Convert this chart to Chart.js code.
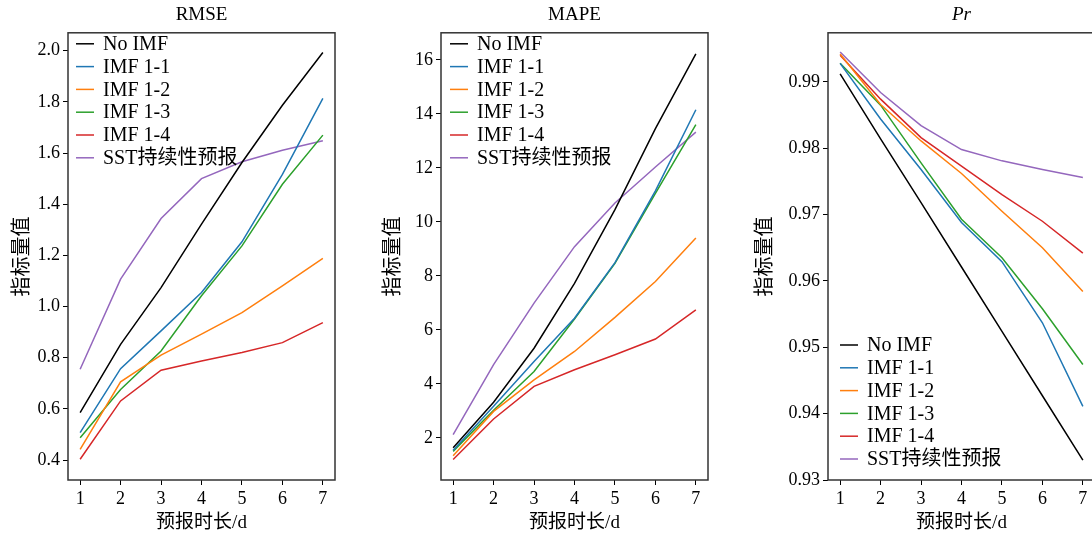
<!DOCTYPE html>
<html>
<head>
<meta charset="utf-8">
<script src="https://cdn.jsdelivr.net/npm/chart.js@4.4.0/dist/chart.umd.min.js"></script>
<style>
  html, body { margin: 0; padding: 0; background: #fff; overflow: hidden; width: 1092px; height: 536px; }
  canvas { position: absolute; top: 0; }
</style>
</head>
<body>
<canvas id="rmse" width="345" height="536" style="left:0px"></canvas>
<canvas id="mape" width="345" height="536" style="left:373px"></canvas>
<canvas id="pr" width="360" height="536" style="left:745px"></canvas>
<script>
const days = [1, 2, 3, 4, 5, 6, 7];
const seriesNames = ['No IMF', 'IMF 1-1', 'IMF 1-2', 'IMF 1-3', 'IMF 1-4', 'SST持续性预报'];
const lineColors = ['#000000', '#1f77b4', '#ff7f0e', '#2ca02c', '#d62728', '#9467bd'];

// RMSE
const rmseNoImf = [0.585, 0.852, 1.074, 1.322, 1.563, 1.787, 1.993];
const rmseImf11 = [0.507, 0.757, 0.905, 1.055, 1.253, 1.517, 1.814];
const rmseImf12 = [0.442, 0.706, 0.810, 0.892, 0.976, 1.081, 1.188];
const rmseImf13 = [0.487, 0.676, 0.826, 1.042, 1.237, 1.478, 1.670];
const rmseImf14 = [0.403, 0.631, 0.751, 0.787, 0.820, 0.859, 0.937];
const rmseSst   = [0.755, 1.107, 1.344, 1.500, 1.566, 1.611, 1.648];
const rmseTicks = [0.4, 0.6, 0.8, 1.0, 1.2, 1.4, 1.6, 1.8, 2.0];

// MAPE
const mapeNoImf = [1.63, 3.32, 5.32, 7.72, 10.45, 13.45, 16.22];
const mapeImf11 = [1.54, 3.17, 4.83, 6.43, 8.49, 11.15, 14.15];
const mapeImf12 = [1.34, 2.98, 4.15, 5.20, 6.46, 7.79, 9.40];
const mapeImf13 = [1.50, 3.02, 4.46, 6.40, 8.46, 11.05, 13.60];
const mapeImf14 = [1.20, 2.70, 3.91, 4.52, 5.08, 5.66, 6.74];
const mapeSst   = [2.12, 4.71, 6.99, 9.08, 10.70, 12.03, 13.32];
const mapeTicks = [2, 4, 6, 8, 10, 12, 14, 16];

// Pr
const prNoImf = [0.9912, 0.9814, 0.9718, 0.9621, 0.9524, 0.9427, 0.9330];
const prImf11 = [0.9928, 0.9844, 0.9768, 0.9688, 0.9629, 0.9537, 0.9411];
const prImf12 = [0.9942, 0.9866, 0.9811, 0.9762, 0.9705, 0.9650, 0.9584];
const prImf13 = [0.9928, 0.9865, 0.9778, 0.9693, 0.9635, 0.9558, 0.9474];
const prImf14 = [0.9940, 0.9874, 0.9816, 0.9773, 0.9730, 0.9690, 0.9642];
const prSst   = [0.9945, 0.9884, 0.9834, 0.9798, 0.9781, 0.9768, 0.9756];
const prTicks = [0.93, 0.94, 0.95, 0.96, 0.97, 0.98, 0.99];

const fam = "'Liberation Serif', 'Noto Sans CJK SC', serif";

// box around the plot area like matplotlib
const framePlugin = {
  id: 'frame',
  afterDraw(chart) {
    const { ctx, chartArea: a } = chart;
    ctx.save();
    ctx.strokeStyle = '#333';
    ctx.lineWidth = 1.5;
    ctx.strokeRect(a.left, a.top, a.right - a.left, a.bottom - a.top);
    ctx.restore();
  }
};

// legend drawn inside the plot area
const innerLegend = {
  id: 'innerLegend',
  afterDraw(chart, args, opts) {
    const { ctx, chartArea: a } = chart;
    const rowH = 22.8;
    const n = chart.data.datasets.length;
    const y0 = opts.bottom ? a.bottom - 21 - (n - 1) * rowH : a.top + 11;
    const dx = opts.dx || 8;
    ctx.save();
    ctx.font = '20px ' + fam;
    ctx.textBaseline = 'middle';
    chart.data.datasets.forEach((ds, i) => {
      const y = y0 + i * rowH;
      ctx.strokeStyle = ds.borderColor;
      ctx.lineWidth = 1.5;
      ctx.beginPath();
      ctx.moveTo(a.left + dx, y);
      ctx.lineTo(a.left + dx + 18, y);
      ctx.stroke();
      ctx.fillStyle = '#000';
      ctx.fillText(ds.label, a.left + dx + 27, y + 1);
    });
    ctx.restore();
  }
};

function makeChart(id, title, italic, series, yMin, yMax, yTicks, decimals, yWidth, yTitlePad, legendOpts) {
  new Chart(document.getElementById(id), {
    type: 'line',
    data: {
      datasets: series.map((vals, i) => ({
        label: seriesNames[i],
        data: days.map((d, j) => ({ x: d, y: vals[j] })),
        borderColor: lineColors[i],
        borderWidth: 1.5,
        pointRadius: 0,
        fill: false,
        tension: 0
      }))
    },
    options: {
      responsive: false,
      animation: false,
      devicePixelRatio: 1,
      layout: { padding: { right: 10, top: 0, bottom: 0, left: 0 } },
      plugins: {
        legend: { display: false },
        tooltip: { enabled: false },
        title: {
          display: true,
          text: title,
          fullSize: false,
          color: '#000',
          font: { family: fam, size: 19, style: italic ? 'italic' : 'normal', weight: 'normal' },
          padding: { top: 4, bottom: 6 }
        },
        innerLegend: legendOpts
      },
      scales: {
        x: {
          type: 'linear',
          min: 0.7,
          max: 7.3,
          afterBuildTicks: s => { s.ticks = days.map(v => ({ value: v })); },
          afterFit: s => { s.height = 56; },
          grid: { drawOnChartArea: false, drawTicks: true, tickLength: 5, color: '#000' },
          border: { display: false },
          ticks: { color: '#000', font: { family: fam, size: 18 }, padding: 3, maxRotation: 0, callback: v => v },
          title: { display: true, text: '预报时长/d', color: '#000', font: { family: fam, size: 19 }, padding: { top: 0, bottom: 2 } }
        },
        y: {
          min: yMin,
          max: yMax,
          afterBuildTicks: s => { s.ticks = yTicks.map(v => ({ value: v })); },
          afterFit: s => { s.width = yWidth; },
          grid: { drawOnChartArea: false, drawTicks: true, tickLength: 5, color: '#000' },
          border: { display: false },
          ticks: { color: '#000', font: { family: fam, size: 18 }, padding: 3, callback: v => v.toFixed(decimals) },
          title: { display: true, text: '指标量值', color: '#000', font: { family: fam, size: 20 }, padding: { top: yTitlePad, bottom: 0 } }
        }
      }
    },
    plugins: [framePlugin, innerLegend]
  });
}

makeChart('rmse', 'RMSE', false,
  [rmseNoImf, rmseImf11, rmseImf12, rmseImf13, rmseImf14, rmseSst],
  0.322, 2.07, rmseTicks, 1, 68, 11, { bottom: false, dx: 8 });
makeChart('mape', 'MAPE', false,
  [mapeNoImf, mapeImf11, mapeImf12, mapeImf13, mapeImf14, mapeSst],
  0.44, 17.0, mapeTicks, 0, 68, 9, { bottom: false, dx: 9 });
makeChart('pr', 'Pr', true,
  [prNoImf, prImf11, prImf12, prImf13, prImf14, prSst],
  0.93, 0.9974, prTicks, 2, 83, 9, { bottom: true, dx: 12 });
</script>
</body>
</html>
